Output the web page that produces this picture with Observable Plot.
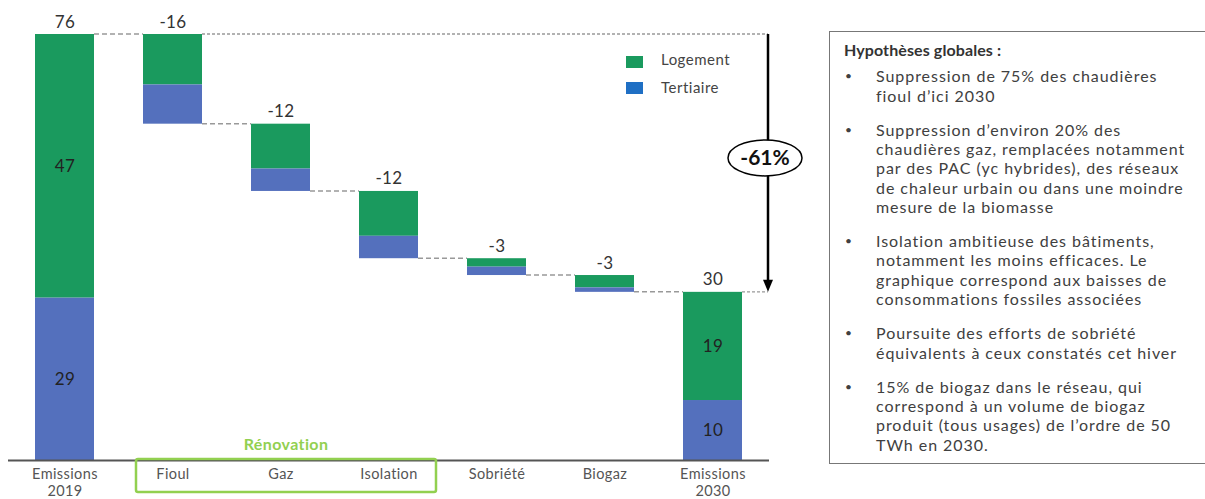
<!DOCTYPE html>
<html><head><meta charset="utf-8">
<script src="https://cdn.jsdelivr.net/npm/d3@7"></script>
<script src="https://cdn.jsdelivr.net/npm/@observablehq/plot@0.6"></script>
<style>
body{margin:0;background:#fff;font-family:Lato,sans-serif;}
#wrap{position:relative;width:1205px;height:499px;overflow:hidden;background:#fff;}
#chart{position:absolute;left:0;top:0;}
.lg{position:absolute;font-size:15px;color:#444;line-height:18px;letter-spacing:0.5px;}
.sw{position:absolute;width:17px;height:12px;}
#box{position:absolute;left:829px;top:31px;width:400px;height:433px;border:1.5px solid #777;box-sizing:border-box;padding:8px 0 0 14px;color:#404040;font-size:16px;letter-spacing:0.95px;line-height:19.3px;white-space:nowrap;}
#box .title{font-weight:bold;font-size:16px;letter-spacing:0.1px;color:#333;}
#box .item{position:relative;padding-left:32px;margin-top:14.9px;}
#box .title + .item{margin-top:7px;}
#box .item::before{content:"•";position:absolute;left:1px;top:0;font-size:12px;}
#chart svg text{letter-spacing:0.4px;}
</style></head>
<body>
<div id="wrap">
  <div id="chart"></div>
  <div class="sw" style="left:626px;top:56px;background:#1a9a5e"></div>
  <div class="lg" style="left:661px;top:50px">Logement</div>
  <div class="sw" style="left:626px;top:82px;background:#1f6fc4"></div>
  <div class="lg" style="left:661px;top:78px">Tertiaire</div>
  <div id="box">
    <div class="title">Hypothèses globales :</div>
    <div class="item">Suppression de 75% des chaudières<br>fioul d’ici 2030</div>
    <div class="item">Suppression d’environ 20% des<br>chaudières gaz, remplacées notamment<br>par des PAC (yc hybrides), des réseaux<br>de chaleur urbain ou dans une moindre<br>mesure de la biomasse</div>
    <div class="item">Isolation ambitieuse des bâtiments,<br>notamment les moins efficaces. Le<br>graphique correspond aux baisses de<br>consommations fossiles associées</div>
    <div class="item">Poursuite des efforts de sobriété<br>équivalents à ceux constatés cet hiver</div>
    <div class="item">15% de biogaz dans le réseau, qui<br>correspond à un volume de biogaz<br>produit (tous usages) de l’ordre de 50<br>TWh en 2030.</div>
  </div>
</div>
<script>
const categories = ["Emissions 2019","Fioul","Gaz","Isolation","Sobriété","Biogaz","Emissions 2030"];
const logement  = [47, 9, 8, 8, 1.5, 2.2, 19.3];
const tertiaire = [29, 7, 4, 4, 1.5, 0.8, 10.7];
const isTotal   = [true, false, false, false, false, false, true];
const topLabels = ["76","-16","-12","-12","-3","-3","30"];
const logementLabels  = ["47","","","","","","19"];
const tertiaireLabels = ["29","","","","","","10"];
const reductionLabel = "-61%";
const groupLabel = "Rénovation";

const GREEN = "#1a9a5e", BLUE = "#5470bd";

const rows = [], tops = [], inside = [], levels = [];
let level = 0;
categories.forEach((c, i) => {
  const l = logement[i], t = tertiaire[i];
  if (isTotal[i]) {
    rows.push({cat: c, series: "Tertiaire", y1: 0, y2: t});
    rows.push({cat: c, series: "Logement", y1: t, y2: t + l});
    level = t + l;
    tops.push({cat: c, y: level, label: topLabels[i]});
    inside.push({cat: c, y: t / 2, label: tertiaireLabels[i]});
    inside.push({cat: c, y: t + l / 2, label: logementLabels[i]});
  } else {
    tops.push({cat: c, y: level, label: topLabels[i]});
    rows.push({cat: c, series: "Logement", y1: level - l, y2: level});
    rows.push({cat: c, series: "Tertiaire", y1: level - l - t, y2: level - l});
    level -= l + t;
  }
  levels.push(level);
});

const plot = Plot.plot({
  width: 810, height: 499,
  marginLeft: 8, marginRight: 41, marginTop: 34, marginBottom: 39,
  style: {fontFamily: "Lato, sans-serif", background: "transparent"},
  x: {domain: categories, paddingInner: 0.454, paddingOuter: 0.25},
  y: {domain: [0, 76], axis: null},
  color: {domain: ["Logement", "Tertiaire"], range: [GREEN, BLUE]},
  marks: [
    Plot.barY(rows, {x: "cat", y1: "y1", y2: "y2", fill: "series"}),
    Plot.ruleY([0], {stroke: "#555", strokeWidth: 2}),
    Plot.axisX({tickSize: 0, tickPadding: 6, fontSize: 14.5, fill: "#555", lineHeight: 1.2,
      tickFormat: d => d.replace(" ", "\n"), label: null}),
    Plot.text(tops, {x: "cat", y: "y", text: "label", dy: -7, lineAnchor: "bottom", fontSize: 17, fill: "#333"}),
    Plot.text(inside.filter(d => d.label), {x: "cat", y: "y", text: "label", fontSize: 17, fill: "#222"})
  ]
});
document.getElementById("chart").appendChild(plot);

// annotations via the plot's own scales
const xs = plot.scale("x"), ys = plot.scale("y");
const bw = xs.bandwidth;
const X = c => xs.apply(c);
const Y = v => ys.apply(v);
const svg = d3.select(plot);
const g = svg.append("g");
const arrowX = xs.range[1] - 1;

// connectors
for (let i = 0; i < categories.length - 1; i++) {
  g.append("line").attr("x1", X(categories[i]) + bw).attr("x2", X(categories[i + 1]))
    .attr("y1", Y(levels[i])).attr("y2", Y(levels[i]))
    .attr("stroke", "#999").attr("stroke-width", 1.5).attr("stroke-dasharray", "5,3");
}
const startTotal = levels[0], endTotal = levels[levels.length - 1];
g.append("line").attr("x1", X(categories[1]) + bw).attr("x2", arrowX)
  .attr("y1", Y(startTotal)).attr("y2", Y(startTotal))
  .attr("stroke", "#999").attr("stroke-width", 1.3).attr("stroke-dasharray", "3,2");
g.append("line").attr("x1", X(categories[categories.length - 1]) + bw).attr("x2", arrowX)
  .attr("y1", Y(endTotal)).attr("y2", Y(endTotal))
  .attr("stroke", "#999").attr("stroke-width", 1.3).attr("stroke-dasharray", "3,2");

// arrow
g.append("line").attr("x1", arrowX).attr("x2", arrowX)
  .attr("y1", Y(startTotal)).attr("y2", Y(endTotal) - 10)
  .attr("stroke", "#000").attr("stroke-width", 2.5);
g.append("path")
  .attr("d", `M${arrowX - 5},${Y(endTotal) - 12} L${arrowX + 5},${Y(endTotal) - 12} L${arrowX},${Y(endTotal)} Z`)
  .attr("fill", "#000");
const midY = (Y(startTotal) + Y(endTotal)) / 2 - 5;
g.append("ellipse").attr("cx", arrowX - 3).attr("cy", midY).attr("rx", 37).attr("ry", 18)
  .attr("fill", "#fff").attr("stroke", "#000").attr("stroke-width", 1.5);
g.append("text").attr("x", arrowX - 3).attr("y", midY).attr("dy", "0.35em")
  .attr("text-anchor", "middle").attr("font-weight", "bold").attr("font-size", 21)
  .attr("style", "letter-spacing:0").attr("fill", "#111").text(reductionLabel);

// Rénovation group box
const bx1 = X("Fioul") - 7, bx2 = X("Isolation") + bw + 18;
g.append("rect").attr("x", bx1).attr("y", Y(0) - 1).attr("width", bx2 - bx1).attr("height", 33)
  .attr("fill", "none").attr("stroke", "#92d050").attr("stroke-width", 2.5).attr("rx", 2);
g.append("text").attr("x", (bx1 + bx2) / 2).attr("y", Y(0) - 16).attr("dy", "0.35em")
  .attr("text-anchor", "middle").attr("font-weight", "bold").attr("font-size", 16)
  .attr("fill", "#92d050").text(groupLabel);
</script>
</body></html>
